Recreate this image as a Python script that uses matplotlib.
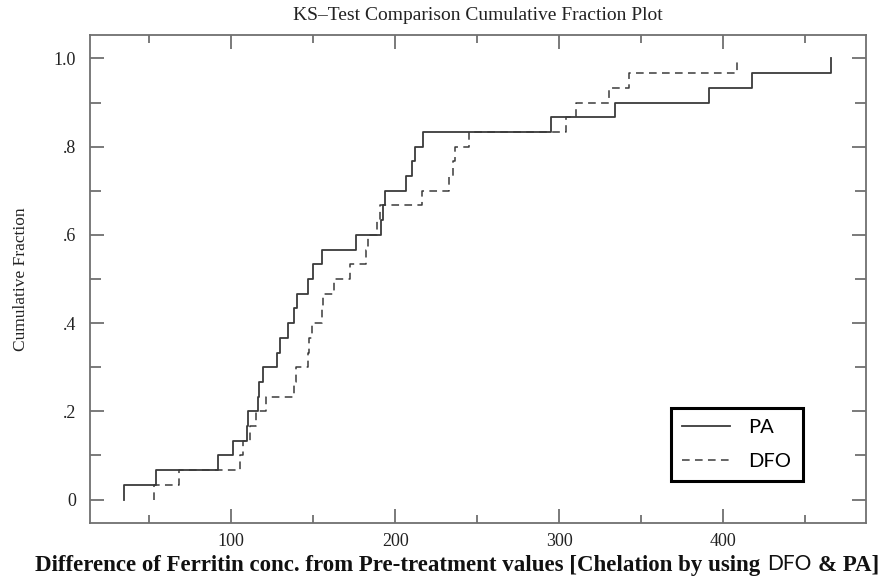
import numpy as np
import matplotlib.pyplot as plt
from matplotlib.offsetbox import TextArea, HPacker, AnchoredOffsetbox

# sorted sample values (30 each)
pa = [34.9, 54.2, 91.8, 101.0, 109.5, 110.1, 116.3, 117.3, 119.3, 127.8,
      130.1, 134.6, 138.6, 140.0, 146.8, 149.8, 155.5, 176.3, 191.1, 192.5,
      194.1, 206.8, 210.2, 211.8, 216.9, 294.8, 333.9, 391.2, 417.3, 465.5]
dfo = [52.8, 68.5, 105.5, 107.0, 111.7, 115.2, 121.3, 138.6, 139.7, 146.8,
       147.5, 149.2, 155.3, 155.9, 163.0, 172.2, 182.4, 183.4, 189.1, 190.5,
       216.5, 232.8, 235.5, 236.5, 245.0, 304.0, 310.5, 330.2, 342.4, 408.1]

xticks = [100, 200, 300, 400]
yticks = [0, 0.2, 0.4, 0.6, 0.8, 1.0]
ytick_labels = ['0', '.2', '.4', '.6', '.8', '1.0']

serif = 'Liberation Serif'
sans = 'Lato'
frame_col = '#707070'
line_col = '#3a3a3a'


def cum_steps(v):
    v = np.sort(np.asarray(v, dtype=float))
    x = np.concatenate([[v[0]], v])
    y = np.arange(len(v) + 1) / len(v)
    return x, y


fig = plt.figure(figsize=(8.9, 5.76), dpi=100)
ax = fig.add_axes([90/890, 1-523/576, (866-90)/890, (523-35)/576])

x, y = cum_steps(pa)
ax.step(x, y, where='post', color=line_col, lw=1.3, label='PA')
x, y = cum_steps(dfo)
ax.step(x, y, where='post', color=line_col, lw=1.1, ls=(0, (5, 3.5)), label='DFO')

ax.set_xlim(14, 487)
ax.set_ylim(-0.053, 1.053)
ax.set_xticks(xticks)
ax.set_xticks([50, 150, 250, 350, 450], minor=True)
ax.set_yticks(yticks)
ax.set_yticklabels(ytick_labels)
ax.set_yticks([0.1, 0.3, 0.5, 0.7, 0.9], minor=True)

for s in ax.spines.values():
    s.set_color(frame_col)
    s.set_linewidth(1.3)
ax.tick_params(which='both', direction='in', top=True, right=True,
               color=frame_col, width=1.3)
ax.tick_params(which='major', length=10)
ax.tick_params(which='minor', length=6)
ax.tick_params(axis='y', which='minor', length=8)
ax.tick_params(axis='y', pad=10)
ax.tick_params(axis='x', pad=7)
for lab in ax.get_xticklabels() + ax.get_yticklabels():
    lab.set_family(serif)
    lab.set_fontsize(13)
    lab.set_color('#222222')

ax.set_title('KS\u2013Test Comparison Cumulative Fraction Plot', family=serif,
             fontsize=14, color='#222222', pad=11)
ax.set_ylabel('Cumulative Fraction', family=serif, fontsize=12.5, color='#222222')
ax.yaxis.set_label_coords(-0.078, 0.5)

# x label with mixed fonts
tp = dict(family=serif, size=16.5, weight='bold', color='#111111')
parts = [TextArea('Difference of Ferritin conc. from Pre-treatment values [Chelation by using', textprops=tp),
         TextArea('DFO', textprops=dict(family=sans, size=15, color='#111111')),
         TextArea('& PA]', textprops=tp)]
box = HPacker(children=parts, align='baseline', pad=0, sep=5)
lab = AnchoredOffsetbox(loc='center', child=box, frameon=False, pad=0, borderpad=0,
                        bbox_to_anchor=(457/890, 1-565/576), bbox_transform=fig.transFigure)
fig.add_artist(lab)

leg = ax.legend(loc='upper left', bbox_to_anchor=(671/890, 1-408/576),
                bbox_transform=fig.transFigure, fancybox=False, framealpha=1,
                edgecolor='black', prop=dict(family=sans, size=14.5),
                handlelength=2.4, labelspacing=0.85, borderpad=0.55,
                handletextpad=0.9, borderaxespad=0)
leg.get_frame().set_linewidth(2.2)

fig.savefig('out.png', dpi=100)
